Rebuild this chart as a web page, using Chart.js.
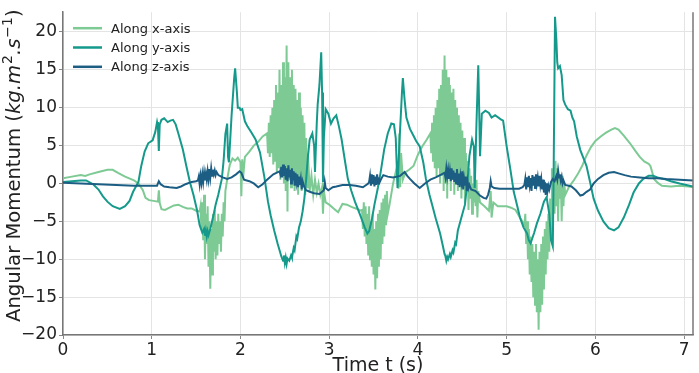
<!DOCTYPE html>
<html>
<head>
<meta charset="utf-8">
<script src="https://cdn.jsdelivr.net/npm/chart.js@4"></script>
<style>
  html, body { margin: 0; padding: 0; background: #fff; }
  #wrap { width: 699px; height: 373px; position: relative; }
</style>
</head>
<body>
<div id="wrap"><canvas id="chart"></canvas></div>
<script>
// Angular momentum traces as [time (s), value]
var alongX = [
  [0,0.7],[0.1,0.9],[0.2,1.1],[0.25,1.0],[0.3,1.2],[0.4,1.5],[0.5,1.8],[0.56,1.8],[0.62,1.4],[0.7,0.9],
  [0.8,0.4],[0.85,0.0],[0.9,-0.9],[0.93,-1.9],[0.97,-2.2],[1.02,-2.3],[1.07,-2.4],[1.08,-0.9],[1.09,-2.6],[1.11,-3.4],
  [1.15,-3.5],[1.2,-3.2],[1.25,-2.9],[1.3,-2.8],[1.35,-3.1],[1.4,-3.3],[1.45,-3.3],[1.5,-3.6],[1.54,-3.7],
  [1.55,-3],[1.56,-6],[1.57,-2.5],[1.58,-7.5],[1.59,-1.5],[1.6,-10],[1.61,-4],[1.62,-8],[1.63,-3],[1.64,-11],
  [1.65,-5],[1.66,-13.9],[1.67,-6],[1.68,-12],[1.69,-4],[1.7,-9],[1.71,-3.5],[1.72,-10],[1.73,-5],[1.74,-9.5],
  [1.75,-4],[1.76,-8],[1.77,-5],[1.78,-9],[1.79,-4],[1.8,-7],[1.81,-2.5],[1.82,-5],[1.83,-1],[1.85,0.5],
  [1.88,2.5],[1.91,3.3],[1.94,3],[1.97,3.4],[2.0,2.8],[2.01,-1.7],[2.02,3.2],[2.03,0.8],[2.05,3.5],[2.1,4.2],
  [2.15,5],[2.2,5.5],[2.25,6.2],[2.3,6.6],
  [2.31,4],[2.32,8],[2.33,3.5],[2.34,9],[2.35,4],[2.36,10],[2.37,2.5],[2.38,11],[2.39,3],[2.4,13],
  [2.41,1.5],[2.42,12],[2.43,2],[2.44,15],[2.45,0.5],[2.46,13],[2.47,1],[2.48,16],[2.49,0],[2.5,14],
  [2.51,-1],[2.52,18.2],[2.53,-3.7],[2.54,16],[2.55,0.5],[2.56,14],[2.57,-0.5],[2.58,15],[2.59,1],[2.6,13],
  [2.61,-1],[2.62,12.5],[2.63,0],[2.64,11],[2.65,-1.5],[2.66,12],[2.67,0.5],[2.68,10],[2.69,-1],[2.7,9],
  [2.71,0],[2.72,8],[2.73,-1.5],[2.74,6],[2.75,-0.5],[2.76,4],[2.78,-1],[2.8,1],[2.82,-1.5],[2.84,0.5],
  [2.86,-1.2],[2.88,0],[2.9,-1.5],[2.92,-0.5],[2.93,-4],[2.94,-1],[2.96,-2.5],[3.0,-2.8],[3.05,-3.3],[3.1,-3.8],
  [3.15,-2.7],[3.2,-2.8],[3.25,-3.1],[3.3,-3.3],[3.35,-3.6],
  [3.37,-3.5],[3.38,-6],[3.39,-2.5],[3.4,-7],[3.41,-3],[3.42,-8],[3.43,-4],[3.44,-9.5],[3.45,-3],[3.46,-10],
  [3.47,-5],[3.48,-11],[3.49,-4],[3.5,-12],[3.51,-6],[3.52,-14],[3.53,-5],[3.54,-12.5],[3.55,-4],[3.56,-11],
  [3.57,-3.5],[3.58,-10],[3.59,-2.5],[3.6,-8],[3.61,-2],[3.62,-7],[3.63,-1.5],[3.64,-5.5],[3.65,-1],[3.66,-4],
  [3.68,-2.8],[3.72,0],[3.76,2],[3.78,-0.7],[3.79,6.6],[3.8,-0.5],[3.81,4],[3.83,0.5],[3.86,1.5],[3.9,1.8],
  [3.95,2.3],[4.0,3.8],[4.05,4.9],[4.1,5.8],[4.14,6.6],
  [4.15,4],[4.16,8],[4.17,3],[4.18,9],[4.19,2],[4.2,10],[4.21,1],[4.22,11],[4.23,2],[4.24,12.5],
  [4.25,0],[4.26,13],[4.27,1],[4.28,15],[4.29,-1],[4.3,16.9],[4.31,0],[4.32,15],[4.33,-2],[4.34,14],
  [4.35,1],[4.36,13],[4.37,-1],[4.38,12],[4.39,0.5],[4.4,12.5],[4.41,-1.5],[4.42,11],[4.43,1],[4.44,10],
  [4.45,-1],[4.46,9],[4.47,0],[4.48,8],[4.49,-2],[4.5,7],[4.51,0],[4.52,6],[4.53,-2.5],[4.54,4],
  [4.55,-1],[4.56,3],[4.57,-3.5],[4.58,2],[4.59,-2],[4.6,1],[4.61,-4],[4.62,0],[4.63,-2.5],[4.64,1.5],
  [4.65,-3],[4.66,0.5],[4.67,-4.5],[4.68,-1],[4.7,-2.5],[4.75,-3],[4.8,-3.6],[4.82,-1],[4.83,-4.5],[4.85,-2.5],
  [4.9,-3],[4.95,-3],[5.0,-3],[5.05,-3.2],[5.1,-3.5],[5.15,-4.5],[5.2,-5.5],
  [5.21,-4],[5.22,-8],[5.23,-5],[5.24,-10],[5.25,-6],[5.26,-12],[5.27,-7],[5.28,-13],[5.29,-8],[5.3,-15],
  [5.31,-9],[5.32,-16],[5.33,-8],[5.34,-17],[5.35,-10],[5.36,-19.3],[5.37,-9],[5.38,-17],[5.39,-8],[5.4,-16],
  [5.41,-7],[5.42,-14],[5.43,-6],[5.44,-12],[5.45,-5],[5.46,-10],[5.47,-4],[5.48,-9],[5.49,-2],[5.5,-7],
  [5.51,2],[5.52,-5],[5.53,1],[5.54,-4],[5.55,3],[5.56,-3],[5.57,2],[5.58,-5],[5.59,1],[5.6,-2],
  [5.61,0.5],[5.62,-5],[5.63,1],[5.64,-3],[5.65,0],[5.66,-1.5],[5.7,-0.5],[5.75,0.3],[5.8,1.2],[5.85,2.3],
  [5.9,3.7],[5.95,4.8],[6.0,5.6],[6.06,6.2],[6.12,6.7],[6.18,7.1],[6.22,7.3],[6.26,7.1],[6.32,6.3],[6.39,5.3],
  [6.45,4.3],[6.5,3.5],[6.55,2.9],[6.6,2.6],[6.62,2.3],[6.64,1.5],[6.66,0.6],[6.7,0.1],[6.75,-0.3],[6.85,-0.4],
  [6.95,-0.3],[7.05,-0.4],[7.1,-0.5]
];

var alongY = [
  [0,0.2],[0.1,0.3],[0.2,0.4],[0.26,0.4],[0.34,-0.1],[0.4,-0.8],[0.45,-1.7],[0.5,-2.4],[0.56,-3.0],[0.64,-3.35],
  [0.7,-3.0],[0.75,-2.3],[0.79,-1.1],[0.85,0.2],[0.88,2.2],[0.92,4.2],[0.96,5.3],[1.01,5.7],[1.04,6.8],[1.06,8.1],
  [1.07,7.5],[1.08,4.3],[1.09,7.8],[1.11,8.4],[1.14,8.6],[1.18,8.1],[1.21,8.3],[1.24,8.4],[1.27,7.8],[1.3,6.6],
  [1.35,4.5],[1.39,2.3],[1.43,0.2],[1.47,-1.5],[1.51,-3.5],[1.54,-5.5],[1.57,-6.5],[1.59,-6.0],[1.6,-6.9],[1.61,-6.2],
  [1.62,-7.0],[1.63,-6.3],[1.64,-6.8],[1.66,-6.0],[1.68,-5],[1.7,-4],[1.72,-2.8],[1.75,-1.5],[1.79,0.6],[1.81,3],
  [1.83,6.5],[1.85,7.9],[1.86,3.5],[1.87,2.8],[1.9,9],[1.93,14],[1.94,15.2],[1.96,12],[1.97,10],[1.99,10],
  [2.0,9.7],[2.02,9.8],[2.05,8.2],[2.08,7.5],[2.12,6.8],[2.17,5.8],[2.22,4.1],[2.27,0.8],[2.31,-2.4],[2.34,-4.2],
  [2.38,-6.2],[2.42,-8],[2.46,-9.6],[2.48,-10.2],[2.49,-9.5],[2.5,-10.5],[2.51,-9.8],[2.52,-10.6],[2.53,-9.9],[2.55,-10.2],
  [2.57,-9.5],[2.58,-9.8],[2.6,-8.5],[2.61,-8.8],[2.63,-7],[2.64,-7.3],[2.66,-5.8],[2.68,-5],[2.7,-3.7],[2.72,-2],
  [2.74,0.5],[2.76,3.5],[2.78,5.8],[2.81,6.6],[2.83,5],[2.84,1.5],[2.86,8],[2.87,10.4],[2.89,13],[2.91,17.3],
  [2.92,12],[2.93,0.2],[2.94,6],[2.96,9.8],[2.99,9.2],[3.02,7.9],[3.05,8.6],[3.08,9.0],[3.11,7.5],[3.14,5.8],
  [3.18,2.8],[3.21,0.6],[3.25,-1],[3.29,-2.4],[3.33,-3.6],[3.36,-4.5],[3.4,-5.8],[3.43,-6.6],[3.45,-6.3],[3.48,-4.8],
  [3.51,-2.8],[3.55,-0.5],[3.58,1.5],[3.62,4.5],[3.66,6.6],[3.7,7.9],[3.73,7.8],[3.75,6],[3.77,-0.6],[3.79,5],
  [3.82,12],[3.83,13.9],[3.85,11],[3.87,8.7],[3.91,7.2],[3.95,6.3],[3.98,5.6],[4.02,4.9],[4.06,2.8],[4.09,0.6],
  [4.13,-1.5],[4.16,-2.8],[4.2,-4.6],[4.25,-6.6],[4.28,-8.2],[4.3,-9.3],[4.31,-9.6],[4.32,-10.2],[4.33,-9.7],[4.34,-10.0],
  [4.36,-9.3],[4.37,-9.7],[4.39,-8.8],[4.4,-9.1],[4.42,-7.8],[4.43,-8.0],[4.45,-6.2],[4.49,-4.5],[4.53,-2.8],[4.56,0.5],
  [4.58,3.6],[4.61,5.8],[4.63,4.9],[4.64,-0.6],[4.66,8],[4.68,15.6],[4.69,10],[4.7,3.6],[4.72,9.2],[4.76,9.6],
  [4.8,9.3],[4.83,8.7],[4.87,9.0],[4.93,8.5],[4.96,8.3],[5.0,4.9],[5.04,2],[5.08,-1.1],[5.12,-3],[5.15,-4.5],
  [5.19,-5.8],[5.23,-6.6],[5.25,-7.5],[5.27,-7.9],[5.29,-7.2],[5.31,-6.5],[5.34,-5.3],[5.38,-4],[5.42,-2.4],[5.45,-1.8],
  [5.48,-4],[5.5,-7.5],[5.52,-8.3],[5.53,2],[5.545,22],[5.56,19],[5.57,16],[5.58,15.2],[5.6,15.5],[5.62,14.3],
  [5.64,11],[5.66,10.4],[5.69,9.8],[5.72,9.6],[5.74,8.7],[5.76,8.2],[5.79,6.2],[5.83,4.4],[5.87,3.2],[5.9,2.3],
  [5.94,0.2],[5.98,-2],[6.03,-3.6],[6.09,-5.0],[6.15,-5.9],[6.21,-6.2],[6.26,-5.8],[6.32,-4.5],[6.38,-2.8],[6.43,-1.2],
  [6.49,0],[6.54,0.6],[6.6,1.0],[6.65,1.0],[6.7,0.8],[6.77,0.6],[6.85,0.3],[6.95,0.0],[7.1,-0.4]
];

var alongZ = [
  [0,0.1],[0.2,0.0],[0.4,-0.1],[0.6,-0.2],[0.8,-0.3],[1.0,-0.3],[1.06,-0.3],[1.08,0.3],[1.1,-0.1],[1.14,-0.4],
  [1.2,-0.5],[1.28,-0.6],[1.33,-0.4],[1.38,-0.1],[1.45,0.2],[1.5,0.3],
  [1.52,0.4],[1.53,0.9],[1.54,-0.1],[1.55,1.0],[1.56,0.1],[1.57,1.2],[1.58,0.2],[1.59,1.4],[1.6,0.4],[1.61,1.3],
  [1.62,0.5],[1.63,1.6],[1.64,0.6],[1.65,1.9],[1.66,0.8],[1.67,2.0],[1.68,1.0],[1.69,1.8],[1.7,1.2],[1.71,1.7],
  [1.72,1.1],[1.73,1.5],[1.75,1.1],[1.8,0.8],[1.85,0.6],[1.9,0.8],[1.95,1.2],[1.99,1.6],[2.01,1.4],[2.04,0.5],
  [2.1,0.3],[2.15,0.0],[2.2,-0.5],[2.25,-0.1],[2.3,0.5],[2.37,1.2],[2.44,1.6],
  [2.45,1.2],[2.46,2.2],[2.47,0.8],[2.48,2.5],[2.49,1.0],[2.5,2.3],[2.51,0.5],[2.52,2.0],[2.53,0.3],[2.54,2.4],
  [2.55,0.8],[2.56,1.8],[2.57,0.0],[2.58,2.0],[2.59,0.4],[2.6,1.6],[2.61,-0.3],[2.62,1.4],[2.63,0.2],[2.64,1.2],
  [2.65,-0.5],[2.66,0.9],[2.67,-0.2],[2.68,0.6],[2.69,-0.8],[2.7,0.3],[2.72,-0.5],[2.74,-0.9],[2.78,-1.1],[2.83,-1.3],
  [2.89,-1.4],[2.92,-1.1],[2.94,-0.9],[2.95,0.2],[2.96,-0.6],[2.99,-0.9],[3.04,-0.5],[3.08,-0.4],[3.15,-0.2],[3.23,-0.2],
  [3.3,-0.3],[3.38,-0.5],[3.44,0.0],
  [3.45,0.2],[3.46,1.0],[3.47,-0.3],[3.48,1.2],[3.49,-0.1],[3.5,1.1],[3.51,-0.4],[3.52,0.9],[3.53,-0.2],[3.54,1.2],
  [3.55,0.0],[3.56,0.8],[3.57,0.2],[3.59,0.7],[3.61,1.1],[3.66,0.9],[3.72,0.8],[3.8,1.0],[3.85,1.5],[3.88,1.0],
  [3.91,0.6],[3.96,0.0],[4.02,-0.6],[4.08,0.0],[4.14,0.5],[4.2,0.8],[4.25,1.1],[4.3,1.4],
  [4.31,0.8],[4.32,2.0],[4.33,0.9],[4.34,1.8],[4.35,0.6],[4.36,1.6],[4.37,0.3],[4.38,2.0],[4.39,0.5],[4.4,1.7],
  [4.41,0.2],[4.42,1.4],[4.43,0.0],[4.44,1.9],[4.45,-0.2],[4.46,1.3],[4.47,-0.5],[4.48,1.0],[4.49,0.2],[4.5,1.6],
  [4.51,-0.8],[4.52,0.6],[4.53,-0.3],[4.54,0.9],[4.55,-1.0],[4.56,0.2],[4.57,-0.6],[4.58,-0.2],[4.6,-0.8],[4.65,-1.0],
  [4.7,-1.6],[4.74,-1.9],[4.77,-2.0],[4.79,-1.5],[4.81,-0.6],[4.82,0.3],[4.83,-0.4],[4.86,-0.6],[4.92,-0.7],[5.0,-0.7],
  [5.08,-0.7],[5.14,-0.7],[5.18,-0.5],
  [5.2,-0.2],[5.21,0.6],[5.22,-0.8],[5.23,0.8],[5.24,-0.5],[5.25,1.0],[5.26,-0.2],[5.27,0.7],[5.28,-1.0],[5.29,1.1],
  [5.3,-0.3],[5.31,0.9],[5.32,-0.6],[5.33,1.2],[5.34,0.0],[5.35,0.8],[5.36,-0.4],[5.37,1.0],[5.38,-0.2],[5.39,0.6],
  [5.4,-0.8],[5.41,0.5],[5.42,-1.2],[5.43,0.2],[5.44,-1.5],[5.45,0.0],[5.46,-1.0],[5.47,-0.3],[5.48,-0.8],[5.5,0.2],
  [5.52,0.6],[5.54,0.3],[5.56,1.0],[5.57,0.5],[5.58,1.7],[5.59,0.8],[5.6,1.2],[5.61,0.4],[5.62,0.9],[5.63,0.0],
  [5.64,0.4],[5.66,-0.2],[5.7,-0.3],[5.73,-0.4],[5.78,-0.9],[5.83,-1.6],[5.86,-1.5],[5.9,-1.1],[5.94,-0.8],[5.98,0.0],
  [6.03,0.6],[6.09,1.1],[6.15,1.4],[6.21,1.5],[6.27,1.3],[6.33,1.1],[6.4,0.9],[6.5,0.8],[6.6,0.7],[6.7,0.7],
  [6.8,0.6],[6.95,0.5],[7.1,0.4]
];

var seriesNames = ["Along x-axis", "Along y-axis", "Along z-axis"];
var seriesColors = ["#7dca94", "#15998b", "#1b5d83"];

var xTicks = [0, 1, 2, 3, 4, 5, 6, 7];
var yTicks = [-20, -15, -10, -5, 0, 5, 10, 15, 20];
var yTickLabels = ["\u221220", "\u221215", "\u221210", "\u22125", "0", "5", "10", "15", "20"];
var xTitle = "Time t (s)";
// y title pieces: plain, then italic math with superscripts
var yTitleParts = [
  { text: "Angular Momentum (", italic: false, sup: false },
  { text: "kg.m", italic: true, sup: false },
  { text: "2", italic: false, sup: true },
  { text: ".s", italic: true, sup: false },
  { text: "\u22121", italic: false, sup: true },
  { text: ")", italic: false, sup: false }
];

var FONT = "'DejaVu Sans', sans-serif";

function toPoints(arr) {
  return arr.map(function(p) { return { x: p[0], y: p[1] }; });
}

// legend inside the plot, top-left, plus the axis titles and right spine
var decorPlugin = {
  id: "decor",
  afterDraw: function(chart) {
    var ctx = chart.ctx;
    var area = chart.chartArea;
    ctx.save();

    // right spine
    ctx.strokeStyle = "#777";
    ctx.lineWidth = 1.5;
    ctx.beginPath();
    ctx.moveTo(area.right, area.top);
    ctx.lineTo(area.right, area.bottom);
    ctx.stroke();

    // legend
    ctx.font = "13px " + FONT;
    ctx.textBaseline = "middle";
    ctx.textAlign = "left";
    chart.data.datasets.forEach(function(ds, i) {
      var y = area.top + 16 + i * 19.3;
      ctx.strokeStyle = ds.borderColor;
      ctx.lineWidth = 2.5;
      ctx.beginPath();
      ctx.moveTo(area.left + 10, y);
      ctx.lineTo(area.left + 39, y);
      ctx.stroke();
      ctx.fillStyle = "#222";
      ctx.fillText(ds.label, area.left + 48, y + 1);
    });

    // x title
    ctx.fillStyle = "#222";
    ctx.font = "19px " + FONT;
    ctx.textAlign = "center";
    ctx.textBaseline = "alphabetic";
    ctx.fillText(xTitle, (area.left + area.right) / 2, 371);

    // y title, rotated, mixed style
    var size = 19.6;
    ctx.translate(20, 322);
    ctx.rotate(-Math.PI / 2);
    ctx.textAlign = "left";
    var x = 0;
    yTitleParts.forEach(function(part) {
      var s = part.sup ? Math.round(size * 0.7) : size;
      ctx.font = (part.italic ? "italic " : "") + s + "px " + FONT;
      ctx.fillText(part.text, x, part.sup ? -size * 0.42 : 0);
      x += ctx.measureText(part.text).width + (part.italic ? 1 : 0);
    });
    ctx.restore();
  }
};

new Chart(document.getElementById("chart"), {
  type: "line",
  data: {
    datasets: [
      { label: seriesNames[0], data: toPoints(alongX), borderColor: seriesColors[0], order: 3 },
      { label: seriesNames[1], data: toPoints(alongY), borderColor: seriesColors[1], order: 2 },
      { label: seriesNames[2], data: toPoints(alongZ), borderColor: seriesColors[2], order: 1 }
    ]
  },
  options: {
    responsive: true,
    maintainAspectRatio: false,
    devicePixelRatio: 1,
    animation: false,
    layout: { padding: { left: 0, right: 6, top: 2, bottom: 0 } },
    elements: {
      line: { borderWidth: 2, tension: 0, fill: false },
      point: { radius: 0, hoverRadius: 0 }
    },
    plugins: { legend: { display: false }, tooltip: { enabled: false } },
    scales: {
      x: {
        type: "linear",
        min: 0,
        max: 7.1,
        afterFit: function(s) { s.height = 38; },
        afterBuildTicks: function(s) { s.ticks = xTicks.map(function(v) { return { value: v }; }); },
        ticks: { color: "#222", font: { family: FONT, size: 17 }, padding: 1, maxRotation: 0,
                 callback: function(v) { return String(v); } },
        grid: { color: "#e4e4e4", lineWidth: 1, tickLength: 4, tickColor: "#888" },
        border: { display: true, color: "#777", width: 1.5 }
      },
      y: {
        min: -20,
        max: 22.6,
        afterFit: function(s) { s.width = 63; },
        afterBuildTicks: function(s) { s.ticks = yTicks.map(function(v) { return { value: v }; }); },
        ticks: { color: "#222", font: { family: FONT, size: 17 }, padding: 2,
                 callback: function(v) { var i = yTicks.indexOf(v); return i >= 0 ? yTickLabels[i] : ""; } },
        grid: { color: "#e4e4e4", lineWidth: 1, tickLength: 4, tickColor: "#888" },
        border: { display: true, color: "#777", width: 1.5 }
      }
    }
  },
  plugins: [decorPlugin]
});
</script>
</body>
</html>
